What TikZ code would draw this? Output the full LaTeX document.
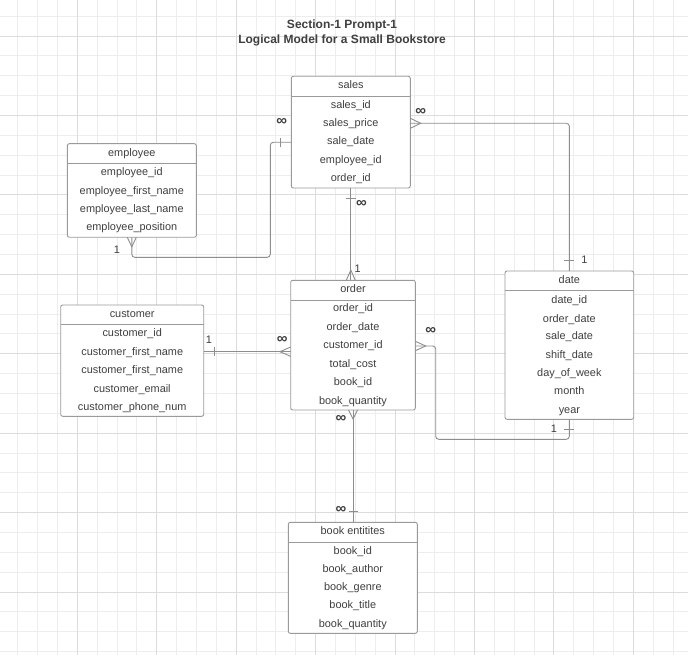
\documentclass[tikz,border=0pt]{standalone}
\usepackage{fontspec}
\setmainfont{Liberation Sans}
\usetikzlibrary{calc}
\definecolor{txt}{HTML}{3F3F3F}
\definecolor{bord}{HTML}{9A9A9A}
\definecolor{lin}{HTML}{8E8E8E}
\definecolor{gmin}{HTML}{EDEDED}
\definecolor{gmaj}{HTML}{DCDCDC}
\begin{document}
\begin{tikzpicture}[x=1pt,y=-1pt,
  entbox/.style={draw=bord, line width=0.9pt, fill=white, rounded corners=2pt, anchor=north west, inner sep=0pt, outer sep=0pt},
  sepline/.style={draw=bord, line width=0.9pt},
  fld/.style={font=\fontsize{10.9}{12}\selectfont, text=txt, inner sep=0pt, text height=7.9pt, text depth=2.3pt, yshift=-1.3pt},
  titletxt/.style={font=\bfseries\fontsize{12}{13}\selectfont, text=txt, inner sep=0pt, yshift=-0.8pt},
  lbl/.style={font=\fontsize{10.9}{12}\selectfont, text=txt, inner sep=0pt},
  inf/.style={font=\bfseries\fontsize{15}{15}\selectfont, text=txt, inner sep=0pt},
  conn/.style={draw=lin, line width=0.9pt, rounded corners=3pt},
  cfmark/.style={draw=lin, line width=0.9pt},
  gminor/.style={draw=gmin, line width=0.9pt},
  gmajor/.style={draw=gmaj, line width=0.9pt}]
\useasboundingbox (0,0) rectangle (688,655);
\fill[white] (0,0) rectangle (688,655);
% grid
\foreach \i in {1,...,35} { \draw[gminor] ({-2.14+\i*19.86},0) -- ++(0,655); }
\foreach \i in {1,...,33} { \draw[gminor] (0,{-3.72+\i*19.86}) -- ++(688,0); }
\foreach \i in {0,...,7} { \draw[gmajor] ({77.3+\i*79.44},0) -- ++(0,655); }
\foreach \i in {0,...,7} { \draw[gmajor] (0,{36+\i*79.44}) -- ++(688,0); }
% title
\node[titletxt] (t1) at (342,25) {Section-1 Prompt-1};
\node[titletxt] (t2) at (342,40) {Logical Model for a Small Bookstore};
% boxes
\node[entbox, minimum width=119pt, minimum height=111.7pt] (sales) at (291.3,76.3) {};
\draw[sepline] ($(sales.north west)+(0,20)$) -- ($(sales.north east)+(0,20)$);
\node[fld] (sales-h) at (350.8,84.7) {sales};
\node[fld] (sales-1) at (350.8,104) {sales\_id};
\node[fld] (sales-2) at (350.8,122.3) {sales\_price};
\node[fld] (sales-3) at (350.8,140.7) {sale\_date};
\node[fld] (sales-4) at (350.8,159.3) {employee\_id};
\node[fld] (sales-5) at (350.8,177.3) {order\_id};

\node[entbox, minimum width=129pt, minimum height=93.6pt] (employee) at (67.3,143.7) {};
\draw[sepline] ($(employee.north west)+(0,19.6)$) -- ($(employee.north east)+(0,19.6)$);
\node[fld] (emp-h) at (131.8,152.7) {employee};
\node[fld] (emp-1) at (131.8,171.7) {employee\_id};
\node[fld] (emp-2) at (131.8,190) {employee\_first\_name};
\node[fld] (emp-3) at (131.8,208.7) {employee\_last\_name};
\node[fld] (emp-4) at (131.8,226.7) {employee\_position};

\node[entbox, minimum width=124.6pt, minimum height=129.7pt] (order) at (290.7,280.3) {};
\draw[sepline] ($(order.north west)+(0,19.7)$) -- ($(order.north east)+(0,19.7)$);
\node[fld] (order-h) at (353,288.7) {order};
\node[fld] (order-1) at (353,307.7) {order\_id};
\node[fld] (order-2) at (353,326) {order\_date};
\node[fld] (order-3) at (353,344.7) {customer\_id};
\node[fld] (order-4) at (353,363) {total\_cost};
\node[fld] (order-5) at (353,381.3) {book\_id};
\node[fld] (order-6) at (353,400) {book\_quantity};

\node[entbox, minimum width=143pt, minimum height=111.3pt] (customer) at (60.7,305) {};
\draw[sepline] ($(customer.north west)+(0,19.3)$) -- ($(customer.north east)+(0,19.3)$);
\node[fld] (cust-h) at (132.2,313.7) {customer};
\node[fld] (cust-1) at (132.2,332.3) {customer\_id};
\node[fld] (cust-2) at (132.2,351) {customer\_first\_name};
\node[fld] (cust-3) at (132.2,369.3) {customer\_first\_name};
\node[fld] (cust-4) at (132.2,388) {customer\_email};
\node[fld] (cust-5) at (132.2,406.3) {customer\_phone\_num};

\node[entbox, minimum width=128.7pt, minimum height=148.3pt] (date) at (505,271) {};
\draw[sepline] ($(date.north west)+(0,19.7)$) -- ($(date.north east)+(0,19.7)$);
\node[fld] (date-h) at (569.35,279.3) {date};
\node[fld] (date-1) at (569.35,299) {date\_id};
\node[fld] (date-2) at (569.35,318.7) {order\_date};
\node[fld] (date-3) at (569.35,335.7) {sale\_date};
\node[fld] (date-4) at (569.35,354) {shift\_date};
\node[fld] (date-5) at (569.35,372.3) {day\_of\_week};
\node[fld] (date-6) at (569.35,390.3) {month};
\node[fld] (date-7) at (569.35,409) {year};

\node[entbox, minimum width=129pt, minimum height=111pt] (book) at (288.3,522.3) {};
\draw[sepline] ($(book.north west)+(0,20)$) -- ($(book.north east)+(0,20)$);
\node[fld] (book-h) at (352.8,530.3) {book entitites};
\node[fld] (book-1) at (352.8,550) {book\_id};
\node[fld] (book-2) at (352.8,568.3) {book\_author};
\node[fld] (book-3) at (352.8,586.7) {book\_genre};
\node[fld] (book-4) at (352.8,604.7) {book\_title};
\node[fld] (book-5) at (352.8,623) {book\_quantity};

% employee - sales
\coordinate (es) at (270.3,257.3);
\coordinate (e-s) at ([yshift=-0.3pt]sales.west |- sales-3);
\draw[conn] (employee.south) |- (es) |- (e-s);
\draw[cfmark] ([xshift=-4.5pt]employee.south) -- ([yshift=-9.5pt]employee.south) -- ([xshift=4.5pt]employee.south);
\draw[cfmark] ($(e-s)+(-10.6,-4.7)$) -- ($(e-s)+(-10.6,4.7)$);
\node[lbl] (l-es1) at (117,250) {1};
\node[inf] (l-es2) at (281.7,121.7) {∞};
% sales - date
\coordinate (s-d) at ([yshift=0.3pt]sales.east |- sales-2);
\draw[conn] (s-d) -| (date.north);
\draw[cfmark] ($(s-d)+(0,-5)$) -- ($(s-d)+(10.4,0)$) -- ($(s-d)+(0,5)$);
\draw[cfmark] ($(date.north)+(-5,-11)$) -- ($(date.north)+(5,-11)$);
\node[lbl] (l-sd1) at (584.3,260) {1};
\node[inf] (l-sd2) at (420.7,111.7) {∞};
% sales - order
\coordinate (so) at (sales.south |- order.north);
\draw[conn] (sales.south) -- (so);
\draw[cfmark] ($(sales.south)+(-5,10.3)$) -- ($(sales.south)+(5,10.3)$);
\draw[cfmark] ($(so)+(-4.5,0)$) -- ($(so)+(0,-10.3)$) -- ($(so)+(4.5,0)$);
\node[inf] (l-so1) at (361.5,204) {∞};
\node[lbl] (l-so2) at (357.7,268.3) {1};
% customer - order
\coordinate (c-o) at ([yshift=0.6pt]customer.east |- cust-2);
\coordinate (co) at (order.west |- c-o);
\draw[conn] (c-o) -- (co);
\draw[cfmark] ($(c-o)+(10.6,-4.7)$) -- ($(c-o)+(10.6,4.7)$);
\draw[cfmark] ($(co)+(0,-4.7)$) -- ($(co)+(-10.7,0)$) -- ($(co)+(0,4.7)$);
\node[lbl] (l-co1) at (209,340) {1};
\node[inf] (l-co2) at (282.3,340) {∞};
% order - date
\coordinate (o-d) at (order.east |- order-3);
\coordinate (od) at (435.7,439.3);
\draw[conn] (o-d) -| (od) -| (date.south);
\draw[cfmark] ($(o-d)+(0,-4.7)$) -- ($(o-d)+(10.4,0)$) -- ($(o-d)+(0,4.7)$);
\draw[cfmark] ($(date.south)+(-5,10)$) -- ($(date.south)+(5,10)$);
\node[inf] (l-od1) at (430.7,330.7) {∞};
\node[lbl] (l-od2) at (554,429) {1};
% order - book
\coordinate (ob) at (order.south |- book.north);
\draw[conn] (order.south) -- (ob);
\draw[cfmark] ($(order.south)+(-4.5,0)$) -- ($(order.south)+(0,9)$) -- ($(order.south)+(4.5,0)$);
\draw[cfmark] ($(ob)+(-4,-11.3)$) -- ($(ob)+(4.5,-11.3)$);
\node[inf] (l-ob1) at (341,419.3) {∞};
\node[inf] (l-ob2) at (341,509.5) {∞};
\end{tikzpicture}
\end{document}
